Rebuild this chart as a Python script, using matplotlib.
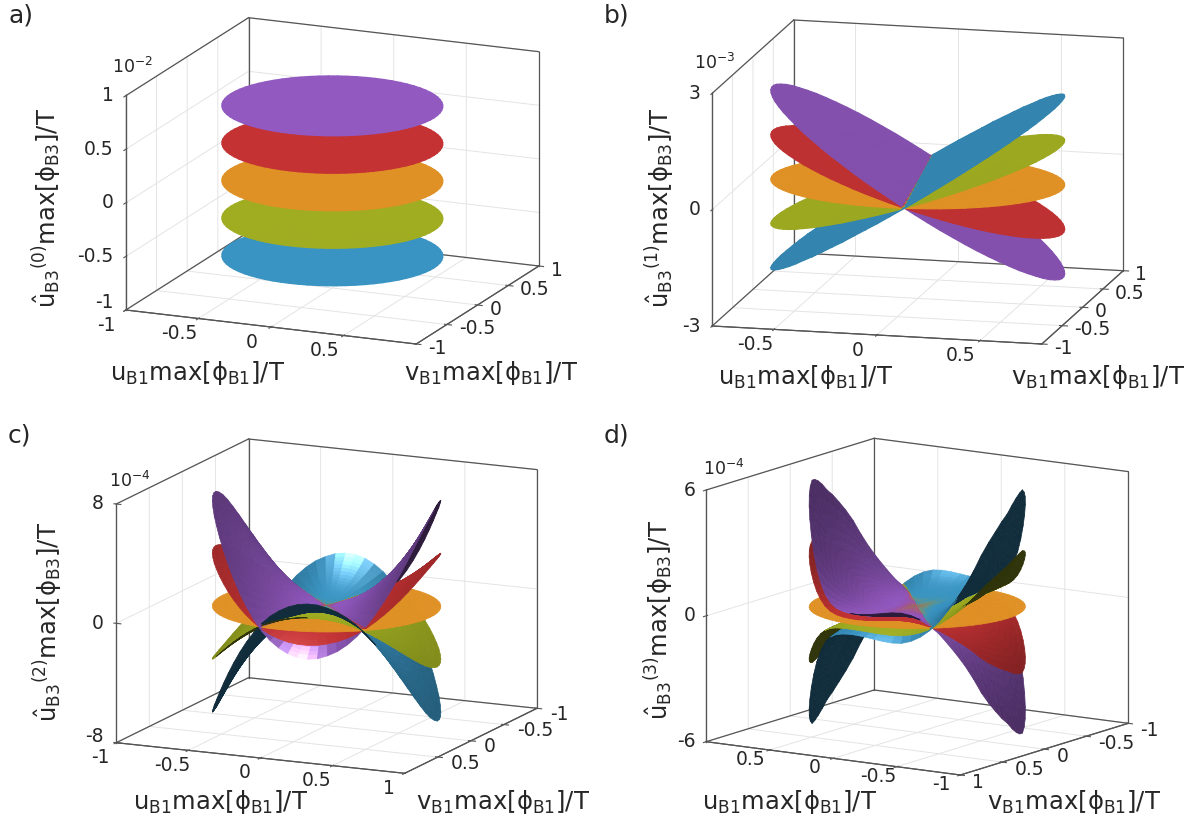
import numpy as np
import matplotlib
matplotlib.use('Agg')
import matplotlib.pyplot as plt
from mpl_toolkits.mplot3d.art3d import Poly3DCollection
from mpl_toolkits.mplot3d import proj3d

plt.rcParams['font.family'] = ['DejaVu Sans']
plt.rcParams['mathtext.fontset'] = 'dejavusans'
plt.rcParams['grid.color'] = '#e4e4e4'
plt.rcParams['grid.linewidth'] = 0.7
plt.rcParams['axes.edgecolor'] = '#555555'
plt.rcParams['axes.linewidth'] = 0.8
plt.rcParams['xtick.color'] = '#555555'
plt.rcParams['ytick.color'] = '#555555'

W, H = 1193, 823
TXT = '#262626'
EDGE = '#555555'

# surface order: blue, green, orange, red, purple
colors = np.array([[57, 148, 196], [160, 173, 33], [224, 145, 37], [196, 50, 51], [146, 89, 193]]) / 255
factors = [-1.0, -0.5, 0.0, 0.5, 1.0]

ring_frac = [0.0, 0.05, 0.1, 0.15, 0.2, 0.25, 0.3, 0.35, 0.4, 0.45, 0.5,
             0.55, 0.6, 0.65, 0.7, 0.75, 0.8, 0.85, 0.9, 0.95, 1.0]

# rim height of the purple surface every 5 deg from the u axis, first half turn (tick units)
rim_a = [0.7] * 36
rim_b = [-2.29, -2.30, -2.29, -2.27, -2.23, -2.17, -2.10, -2.01, -1.91, -1.79, -1.65, -1.51,
         -1.35, -1.18, -1.01, -0.82, -0.63, -0.44, -0.24, -0.04, 0.16, 0.36, 0.56, 0.75,
         0.94, 1.12, 1.29, 1.45, 1.60, 1.74, 1.86, 1.97, 2.07, 2.15, 2.21, 2.26]
rim_c = [6.75, 6.30, 5.72, 5.05, 4.30, 3.50, 2.67, 1.84, 1.04, 0.28, -0.37, -0.90,
         -1.32, -1.60, -1.80, -1.85, -1.78, -1.58, -1.25, -0.82, -0.26, 0.43, 1.19, 2.00,
         2.84, 3.67, 4.47, 5.20, 5.85, 6.35, 6.80, 7.10, 7.25, 7.30, 7.25, 7.05]
rim_d = [5.0, 5.35, 5.6, 5.75, 5.8, 5.6, 5.3, 4.85, 4.3, 3.65, 2.95, 2.25,
         1.65, 1.15, 0.82, 0.63, 0.54, 0.5, 0.5, 0.54, 0.6, 0.67, 0.72, 0.72,
         0.62, 0.42, 0.12, -0.28, -0.8, -1.35, -1.94, -2.6, -3.3, -3.85, -4.3, -4.7]

# height along a spoke, centre to rim, as part of the rim height
spoke_a = [1.0] * 21
spoke_b = ring_frac
spoke_c = [0.0, 0.0025, 0.01, 0.0225, 0.04, 0.0625, 0.09, 0.1225, 0.16, 0.2025, 0.25,
           0.3025, 0.36, 0.4225, 0.49, 0.5625, 0.64, 0.7225, 0.81, 0.9025, 1.0]
spoke_d = [0.0, 0.0001, 0.001, 0.0034, 0.008, 0.0156, 0.027, 0.0429, 0.064, 0.0911, 0.125,
           0.1664, 0.216, 0.2746, 0.343, 0.4219, 0.512, 0.6141, 0.729, 0.8574, 1.0]

panels = [
    dict(tag='a)', tag_xy=(8, 16), n='0', exp='-2', exp_xy=(112, 67), radius=0.70, lw=1.1,
         rim=rim_a, sign=1, spoke=spoke_a, ulim=1.0, zlim=1.0, vflip=False, zside='lower',
         uticks=[-1, -0.5, 0, 0.5], ulabels=['-1', '-0.5', '0', '0.5'],
         vticks=[-1, -0.5, 0, 0.5, 1], vlabels=['-1', '-0.5', '0', '0.5', '1'],
         zticks=[-1, -0.5, 0, 0.5, 1], zlabels=['-1', '-0.5', '0', '0.5', '1'],
         left_top=(125.8, 95.7), ex=(290.4, -34.0), ey=(122.7, 78.0), ez=214.3,
         uoff=(-19, 15), voff=(12, 4), zoff=(-12, 0), zfirst=-8,
         ulab=(198, 373), vlab=(491, 373), zlab=(47, 208)),
    dict(tag='b)', tag_xy=(604, 16), n='1', exp='-3', exp_xy=(694, 63), radius=0.70, lw=0.8,
         rim=rim_b, sign=-1, spoke=spoke_b, ulim=0.8, zlim=3.0, vflip=False, zside='lower',
         uticks=[-0.5, 0, 0.5], ulabels=['-0.5', '0', '0.5'],
         vticks=[-1, -0.5, 0, 0.5, 1], vlabels=['-1', '-0.5', '0', '0.5', '1'],
         zticks=[-3, 0, 3], zlabels=['-3', '0', '3'],
         left_top=(712.2, 93.3), ex=(329.6, -18.0), ey=(81.5, 73.3), ez=232.7,
         uoff=(-19, 15), voff=(12, 4), zoff=(-12, 0), zfirst=0,
         ulab=(806, 377), vlab=(1098, 377), zlab=(660, 208)),
    dict(tag='c)', tag_xy=(8, 435), n='2', exp='-4', exp_xy=(109, 481), radius=0.72, lw=0.5,
         rim=rim_c, sign=1, spoke=spoke_c, ulim=1.0, zlim=8.0, vflip=True, zside='upper',
         uticks=[-1, -0.5, 0, 0.5, 1], ulabels=['-1', '-0.5', '0', '0.5', '1'],
         vticks=[-1, -0.5, 0, 0.5], vlabels=['-1', '-0.5', '0', '0.5'],
         zticks=[-8, 0, 8], zlabels=['-8', '0', '8'],
         left_top=(116.2, 504.0), ex=(288.5, -30.6), ey=(132.3, 65.0), ez=238.7,
         uoff=(-16, 15), voff=(13, 6), zoff=(-13, 0), zfirst=-6,
         ulab=(221, 802), vlab=(503, 802), zlab=(48, 622)),
    dict(tag='d)', tag_xy=(604, 435), n='3', exp='-4', exp_xy=(703, 469), radius=0.71, lw=0.5,
         rim=rim_d, sign=-1, spoke=spoke_d, ulim=1.0, zlim=6.0, vflip=False, zside='upper',
         uticks=[-1, -0.5, 0, 0.5], ulabels=['-1', '-0.5', '0', '0.5'],
         vticks=[-1, -0.5, 0, 0.5, 1], vlabels=['-1', '-0.5', '0', '0.5', '1'],
         zticks=[-6, 0, 6], zlabels=['-6', '0', '6'],
         left_top=(706.2, 490.0), ex=(-254.1, 33.3), ey=(-168.0, -51.7), ez=251.7,
         uoff=(-19, 9.5), voff=(12, 7), zoff=(-11, 0), zfirst=0,
         ulab=(790, 802), vlab=(1074, 802), zlab=(659, 620)),
]


def solve_view(ex, ey, ez):
    # elevation, azimuth and box sizes that give these on-screen axis vectors
    sin_el = np.sqrt(-(ex[1] * ey[1]) / (ex[0] * ey[0]))
    tan_az = abs(sin_el * ex[0] / ex[1])
    az = np.arctan2(-np.sign(ex[0]) * tan_az, np.sign(ey[0]))
    a = abs(ex[0] / np.sin(az))
    b = abs(ey[0] / np.cos(az))
    c = ez / np.sqrt(1 - sin_el ** 2)
    return np.degrees(np.arcsin(sin_el)), np.degrees(az), (a, b, c)


def to_px(ax, x, y, z):
    xs, ys, _ = proj3d.proj_transform(x, y, z, ax.get_proj())
    return ax.transData.transform((xs, ys))


def shade(normal, view, base):
    # light from straight above, faces turned to the viewer
    flip = np.sign(normal @ view)
    flip[flip == 0] = 1
    n = normal * flip[:, None]
    light = np.array([0.0, 0.0, 1.0])
    half = light + view
    half = half / np.linalg.norm(half)
    diff = 0.3 + 0.7 * np.clip(n @ light, 0.0, 1.0)
    spec = np.clip(n @ half, 0, None) ** 30
    col = base * diff[:, None] + 1.3 * spec[:, None]
    return np.clip(col, 0, 1)


def unit(a):
    return a / np.clip(np.linalg.norm(a, axis=2, keepdims=True), 1e-9, None)


def put(x, y, s, **kw):
    fig.text(x / W, 1 - y / H, s, color=TXT, **kw)


fig = plt.figure(figsize=(W / 100, H / 100), dpi=100)

for p in panels:
    elev, azim, box = solve_view(p['ex'], p['ey'], p['ez'])
    ax = fig.add_axes([0.1, 0.1, 0.5, 0.5], projection='3d', proj_type='ortho', computed_zorder=False)
    ax.patch.set_visible(False)
    ax.view_init(elev=elev, azim=azim)
    ax.set_box_aspect(box)
    ulim, zlim = p['ulim'], p['zlim']
    ax.set_xlim(-ulim, ulim, view_margin=0)
    if p['vflip']:
        ax.set_ylim(1, -1, view_margin=0)
    else:
        ax.set_ylim(-1, 1, view_margin=0)
    ax.set_zlim(-zlim, zlim, view_margin=0)

    rim = np.array(p['rim'])
    rim = np.r_[rim, p['sign'] * rim, rim[0]]
    angle = np.radians(np.arange(0, 361, 5))
    ring = np.array(ring_frac) * p['radius']
    uu = np.outer(ring, np.cos(angle))
    vv = np.outer(ring, np.sin(angle))
    shape = np.outer(p['spoke'], rim)

    # box coordinates for normals and for finding the near corner
    vsign = -1 if p['vflip'] else 1
    scale = np.array([box[0] / (2 * ulim), vsign * box[1] / 2, box[2] / (2 * zlim)])
    el, az = np.radians(elev), np.radians(azim)
    view = np.array([np.cos(el) * np.cos(az), np.cos(el) * np.sin(az), np.sin(el)])

    verts, faces = [], []
    for f, base in zip(factors, colors):
        pts = np.dstack([uu, vv, f * shape])
        quads = np.stack([pts[:-1, :-1], pts[1:, :-1], pts[1:, 1:], pts[:-1, 1:]], axis=2)
        d1 = (quads[:, :, 2] - quads[:, :, 0]) * scale
        d2 = (quads[:, :, 3] - quads[:, :, 1]) * scale
        normal = unit(np.cross(d1, d2))
        # soften the facets, for the colour only
        for _ in range(6):
            soft = normal + np.roll(normal, 1, axis=1) + np.roll(normal, -1, axis=1)
            soft[1:-1] += normal[:-2] + normal[2:]
            normal = unit(soft)
        verts.append(quads.reshape(-1, 4, 3))
        faces.append(shade(normal.reshape(-1, 3), view, base))
    verts = np.concatenate(verts)
    faces = np.concatenate(faces)
    poly = Poly3DCollection(verts, facecolors=faces, edgecolors=faces, linewidths=p['lw'], zsort='average', zorder=3)
    ax.add_collection3d(poly, autolim=False)

    # box edges, all but the three that meet at the near top corner
    corners = np.array([[a, b, c] for a in (-1, 1) for b in (-1, 1) for c in (-1, 1)], dtype=float)
    data = corners * [ulim, 1, zlim]
    near = np.argmax((data * scale) @ view)
    for i in range(8):
        for j in range(i + 1, 8):
            if np.abs(corners[i] - corners[j]).sum() == 2 and near not in (i, j):
                ax.plot(*zip(data[i], data[j]), color=EDGE, lw=0.9, zorder=2)

    ax.set_xticks(p['uticks'])
    ax.set_yticks(p['vticks'])
    ax.set_zticks(p['zticks'])
    ax.set_xticklabels([''] * len(p['uticks']))
    ax.set_yticklabels([''] * len(p['vticks']))
    ax.set_zticklabels([''] * len(p['zticks']))
    ax.zaxis.set_ticks_position(p['zside'])
    for axis in (ax.xaxis, ax.yaxis, ax.zaxis):
        axis.set_pane_color((1, 1, 1, 1))
        axis.pane.set_linewidth(0)
    ax.grid(True)

    # size and move the axes so the box falls on the reference corners
    side = 500.0
    ax.set_position([0.1, 0.1, side / W, side / H])
    ax.apply_aspect()
    lo = to_px(ax, 0, 0, -zlim)
    hi = to_px(ax, 0, 0, zlim)
    side = 500.0 * p['ez'] / (hi[1] - lo[1])
    ax.set_position([0.1, 0.1, side / W, side / H])
    ax.apply_aspect()
    top = np.array([to_px(ax, c[0], c[1], zlim) for c in data])
    now = top[np.argmin(top[:, 0])]
    want = (p['left_top'][0], H - p['left_top'][1])
    ax.set_position([(0.1 * W + want[0] - now[0]) / W, (0.1 * H + want[1] - now[1]) / H, side / W, side / H])
    ax.apply_aspect()

    # tick labels sit a fixed step from the axis edge they belong to
    floor = np.array([to_px(ax, c[0], c[1], -zlim) for c in data])
    floor3d = data.copy()
    floor3d[:, 2] = -zlim
    left = floor3d[np.argmin(floor[:, 0])]
    front = floor3d[np.argmin(floor[:, 1])]
    for t, s in zip(p['uticks'], p['ulabels']):
        xy = to_px(ax, t, front[1], -zlim)
        put(xy[0] + p['uoff'][0], H - xy[1] + p['uoff'][1], s, fontsize=13.5, ha='center', va='center')
    for t, s in zip(p['vticks'], p['vlabels']):
        xy = to_px(ax, front[0], t, -zlim)
        put(xy[0] + p['voff'][0], H - xy[1] + p['voff'][1], s, fontsize=13.5, ha='left', va='center')
    for k, (t, s) in enumerate(zip(p['zticks'], p['zlabels'])):
        xy = to_px(ax, left[0], left[1], t)
        dy = p['zfirst'] if k == 0 else 0
        put(xy[0] + p['zoff'][0], H - xy[1] + dy, s, fontsize=13.5, ha='right', va='center')

    put(p['tag_xy'][0], p['tag_xy'][1], p['tag'], fontsize=18, ha='left', va='center')
    put(p['exp_xy'][0], p['exp_xy'][1], r'$\mathregular{10^{%s}}$' % p['exp'], fontsize=12.5, ha='left', va='center')
    put(p['ulab'][0], p['ulab'][1], r'$\mathregular{u_{B1}max[ϕ_{B1}]/T}$', fontsize=17.5, ha='center', va='center')
    put(p['vlab'][0], p['vlab'][1], r'$\mathregular{v_{B1}max[ϕ_{B1}]/T}$', fontsize=17.5, ha='center', va='center')
    put(p['zlab'][0], p['zlab'][1], r'$\mathregular{\hat{u}_{B3}{}^{(%s)}max[ϕ_{B3}]/T}$' % p['n'], fontsize=17.5,
        ha='center', va='center', rotation=90)

fig.savefig('out.png', dpi=100)
